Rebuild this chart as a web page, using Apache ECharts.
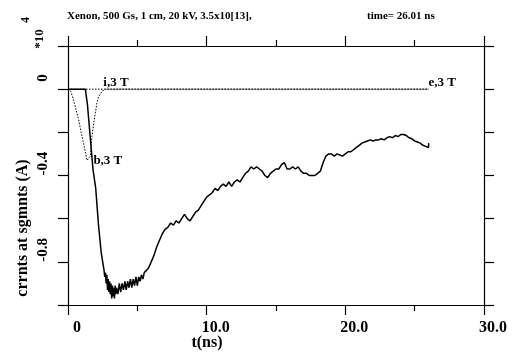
<!DOCTYPE html>
<html>
<head>
<meta charset="utf-8">
<title>crrnts at sgmnts</title>
<script src="https://cdn.jsdelivr.net/npm/echarts@6/dist/echarts.min.js"></script>
<style>
  html, body { margin: 0; padding: 0; background: #fff; }
  #main { width: 513px; height: 356px; }
</style>
</head>
<body>
<div id="main"></div>
<script>
// values (t in ns, current in units of 1e4 A)
var xTicks = [0, 10, 20, 30];
var yLabelTicks = [0, -0.4, -0.8];

var bTime = [0, 0.5, 1.0, 1.25, 1.4, 1.6, 1.8, 2.0, 2.2, 2.4, 2.6, 2.65, 2.7, 2.75, 2.8,
  2.85, 2.9, 2.95, 3.0, 3.05, 3.1, 3.15, 3.2, 3.25, 3.3, 3.35, 3.4, 3.45, 3.5, 3.6,
  3.7, 3.8, 3.9, 4.0, 4.1, 4.2, 4.3, 4.4, 4.5, 4.6, 4.7, 4.8, 4.9, 5.0, 5.1, 5.2,
  5.3, 5.4, 5.5, 5.6, 5.8, 6.0, 6.2, 6.4, 6.6, 6.8, 7.0, 7.2, 7.4, 7.6, 7.8, 8.0,
  8.2, 8.4, 8.6, 8.8, 9.0, 9.2, 9.4, 9.6, 9.8, 10.0, 10.2, 10.4, 10.6, 10.8, 11.0,
  11.2, 11.4, 11.6, 11.8, 12.0, 12.2, 12.4, 12.6, 12.8, 13.0, 13.2, 13.4, 13.6, 13.8,
  14.0, 14.2, 14.4, 14.6, 14.8, 15.0, 15.2, 15.4, 15.6, 15.8, 16.0, 16.2, 16.4, 16.6,
  16.8, 17.0, 17.2, 17.4, 17.6, 17.8, 18.0, 18.2, 18.4, 18.6, 18.8, 19.0, 19.2, 19.4,
  19.6, 19.8, 20.0, 20.2, 20.4, 20.6, 20.8, 21.0, 21.2, 21.4, 21.6, 21.8, 22.0, 22.2,
  22.4, 22.6, 22.8, 23.0, 23.2, 23.4, 23.6, 23.8, 24.0, 24.2, 24.4, 24.6, 24.8, 25.0,
  25.2, 25.4, 25.6, 25.8, 26.0, 26.01];
var bCurrent = [0, 0, 0, 0, -0.07, -0.22, -0.37, -0.46, -0.63, -0.76, -0.84, -0.87, -0.85, -0.90, -0.86,
  -0.93, -0.88, -0.94, -0.89, -0.95, -0.90, -0.97, -0.91, -0.96, -0.92, -0.97, -0.91, -0.95, -0.92, -0.95,
  -0.90, -0.94, -0.90, -0.93, -0.89, -0.93, -0.89, -0.92, -0.88, -0.92, -0.88, -0.91, -0.87, -0.91, -0.87, -0.89,
  -0.86, -0.88, -0.85, -0.85, -0.83, -0.80, -0.77, -0.73, -0.70, -0.67, -0.65, -0.64, -0.62, -0.63, -0.61, -0.62,
  -0.60, -0.58, -0.60, -0.61, -0.59, -0.57, -0.56, -0.54, -0.52, -0.50, -0.49, -0.48, -0.46, -0.47, -0.45,
  -0.44, -0.45, -0.43, -0.45, -0.43, -0.42, -0.43, -0.41, -0.39, -0.38, -0.36, -0.37, -0.36, -0.37,
  -0.38, -0.40, -0.41, -0.39, -0.38, -0.37, -0.37, -0.35, -0.34, -0.37, -0.37, -0.36, -0.37, -0.36,
  -0.38, -0.39, -0.39, -0.40, -0.40, -0.40, -0.39, -0.38, -0.34, -0.31, -0.30, -0.30, -0.31, -0.30,
  -0.305, -0.31, -0.30, -0.29, -0.29, -0.28, -0.27, -0.26, -0.25, -0.245, -0.24, -0.235, -0.24, -0.235,
  -0.235, -0.23, -0.235, -0.225, -0.22, -0.225, -0.215, -0.22, -0.21, -0.21, -0.215, -0.225, -0.23, -0.24,
  -0.245, -0.25, -0.26, -0.265, -0.27, -0.25];

var iTime = [0, 0.2, 0.4, 0.6, 0.76, 0.95, 1.12, 1.25, 1.37, 1.5, 1.61, 1.73, 1.85, 1.97, 2.1, 2.2, 2.45, 2.7, 26.0];
var iCurrent = [0, -0.01, -0.05, -0.10, -0.14, -0.20, -0.25, -0.29, -0.33, -0.33, -0.31, -0.22, -0.16, -0.11, -0.06, -0.035, -0.01, 0, 0];

var eTime = [0, 26.0];
var eCurrent = [0, 0];

function zip(a, b) {
  return a.map(function (v, k) { return [v, b[k]]; });
}

var serif = 'Liberation Serif';
var myChart = echarts.init(document.getElementById('main'));

var option = {
  animation: false,
  backgroundColor: '#fff',
  grid: { left: 68, right: 29, top: 46, bottom: 51 },
  xAxis: [{
    type: 'value', position: 'bottom', min: 0, max: 30, interval: 10,
    axisLine: { onZero: false, lineStyle: { color: '#000', width: 1.2 } },
    axisTick: { length: 10, lineStyle: { color: '#000', width: 1.2 } },
    minorTick: { show: true, splitNumber: 2, length: 6, lineStyle: { color: '#000', width: 1.2 } },
    splitLine: { show: false },
    axisLabel: {
      margin: 15, color: '#000', fontFamily: serif, fontWeight: 'bold', fontSize: 16,
      padding: [0, 0, 0, 18],
      formatter: function (v) { return xTicks.indexOf(v) === 0 ? '0' : v.toFixed(1); }
    }
  }, {
    type: 'value', position: 'top', min: 0, max: 30, interval: 10,
    axisLine: { onZero: false, lineStyle: { color: '#000', width: 1.2 } },
    axisTick: { length: 10, lineStyle: { color: '#000', width: 1.2 } },
    minorTick: { show: true, splitNumber: 2, length: 6, lineStyle: { color: '#000', width: 1.2 } },
    splitLine: { show: false },
    axisLabel: { show: false }
  }],
  yAxis: [{
    type: 'value', position: 'left', min: -1.0, max: 0.2, interval: 0.2,
    axisLine: { show: true, onZero: false, lineStyle: { color: '#000', width: 1.2 } },
    axisTick: { show: true, length: 10, lineStyle: { color: '#000', width: 1.2 } },
    splitLine: { show: false },
    axisLabel: {
      rotate: 90, margin: 17, align: 'left', verticalAlign: 'bottom',
      color: '#000', fontFamily: serif, fontWeight: 'bold', fontSize: 15,
      formatter: function (v) {
        var r = Math.round(v * 10) / 10;
        if (r === 0) return '  0';
        return yLabelTicks.indexOf(r) >= 0 ? r.toFixed(1) : '';
      }
    }
  }, {
    type: 'value', position: 'right', min: -1.0, max: 0.2, interval: 0.2,
    axisLine: { show: true, onZero: false, lineStyle: { color: '#000', width: 1.2 } },
    axisTick: { show: true, length: 10, lineStyle: { color: '#000', width: 1.2 } },
    splitLine: { show: false },
    axisLabel: { show: false }
  }],
  graphic: [
    { type: 'text', left: 67, top: 11, style: { text: 'Xenon, 500 Gs, 1 cm, 20 kV, 3.5x10[13],', font: 'bold 11px "Liberation Serif"', fill: '#000' } },
    { type: 'text', left: 367, top: 11, style: { text: 'time= 26.01 ns', font: 'bold 11px "Liberation Serif"', fill: '#000' } },
    { type: 'text', x: 23, y: 228, rotation: Math.PI / 2, style: { text: 'crrnts at sgmnts (A)', font: 'bold 16px "Liberation Serif"', fill: '#000', align: 'center', verticalAlign: 'middle' } },
    { type: 'text', x: 40, y: 39, rotation: Math.PI / 2, style: { text: '*10', font: 'bold 13px "Liberation Serif"', fill: '#000', align: 'center', verticalAlign: 'middle' } },
    { type: 'text', x: 26, y: 20, rotation: Math.PI / 2, style: { text: '4', font: 'bold 12px "Liberation Serif"', fill: '#000', align: 'center', verticalAlign: 'middle' } },
    { type: 'text', x: 207, y: 343, style: { text: 't(ns)', font: 'bold 16px "Liberation Serif"', fill: '#000', align: 'center', verticalAlign: 'middle' } }
  ],
  series: [{
    name: 'e,3 T', type: 'line', showSymbol: false, data: zip(eTime, eCurrent),
    lineStyle: { color: '#000', width: 1, type: [1.5, 1.5] },
    markPoint: {
      symbol: 'circle', symbolSize: 0,
      label: { show: true, position: 'right', distance: 0, offset: [0, -7], color: '#000', fontFamily: serif, fontWeight: 'bold', fontSize: 13, formatter: 'e,3 T' },
      data: [{ coord: [26.0, 0] }]
    }
  }, {
    name: 'i,3 T', type: 'line', showSymbol: false, data: zip(iTime, iCurrent),
    lineStyle: { color: '#000', width: 1, type: [1.5, 1.5] },
    markPoint: {
      symbol: 'circle', symbolSize: 0,
      label: { show: true, position: 'right', distance: 0, offset: [0, -7], color: '#000', fontFamily: serif, fontWeight: 'bold', fontSize: 13, formatter: 'i,3 T' },
      data: [{ coord: [2.55, 0] }]
    }
  }, {
    name: 'b,3 T', type: 'line', showSymbol: false, data: zip(bTime, bCurrent),
    lineStyle: { color: '#000', width: 1.5 },
    markPoint: {
      symbol: 'circle', symbolSize: 0,
      label: { show: true, position: 'right', distance: 0, color: '#000', fontFamily: serif, fontWeight: 'bold', fontSize: 13, formatter: 'b,3 T' },
      data: [{ coord: [1.83, -0.33] }]
    }
  }]
};

myChart.setOption(option);
</script>
</body>
</html>
